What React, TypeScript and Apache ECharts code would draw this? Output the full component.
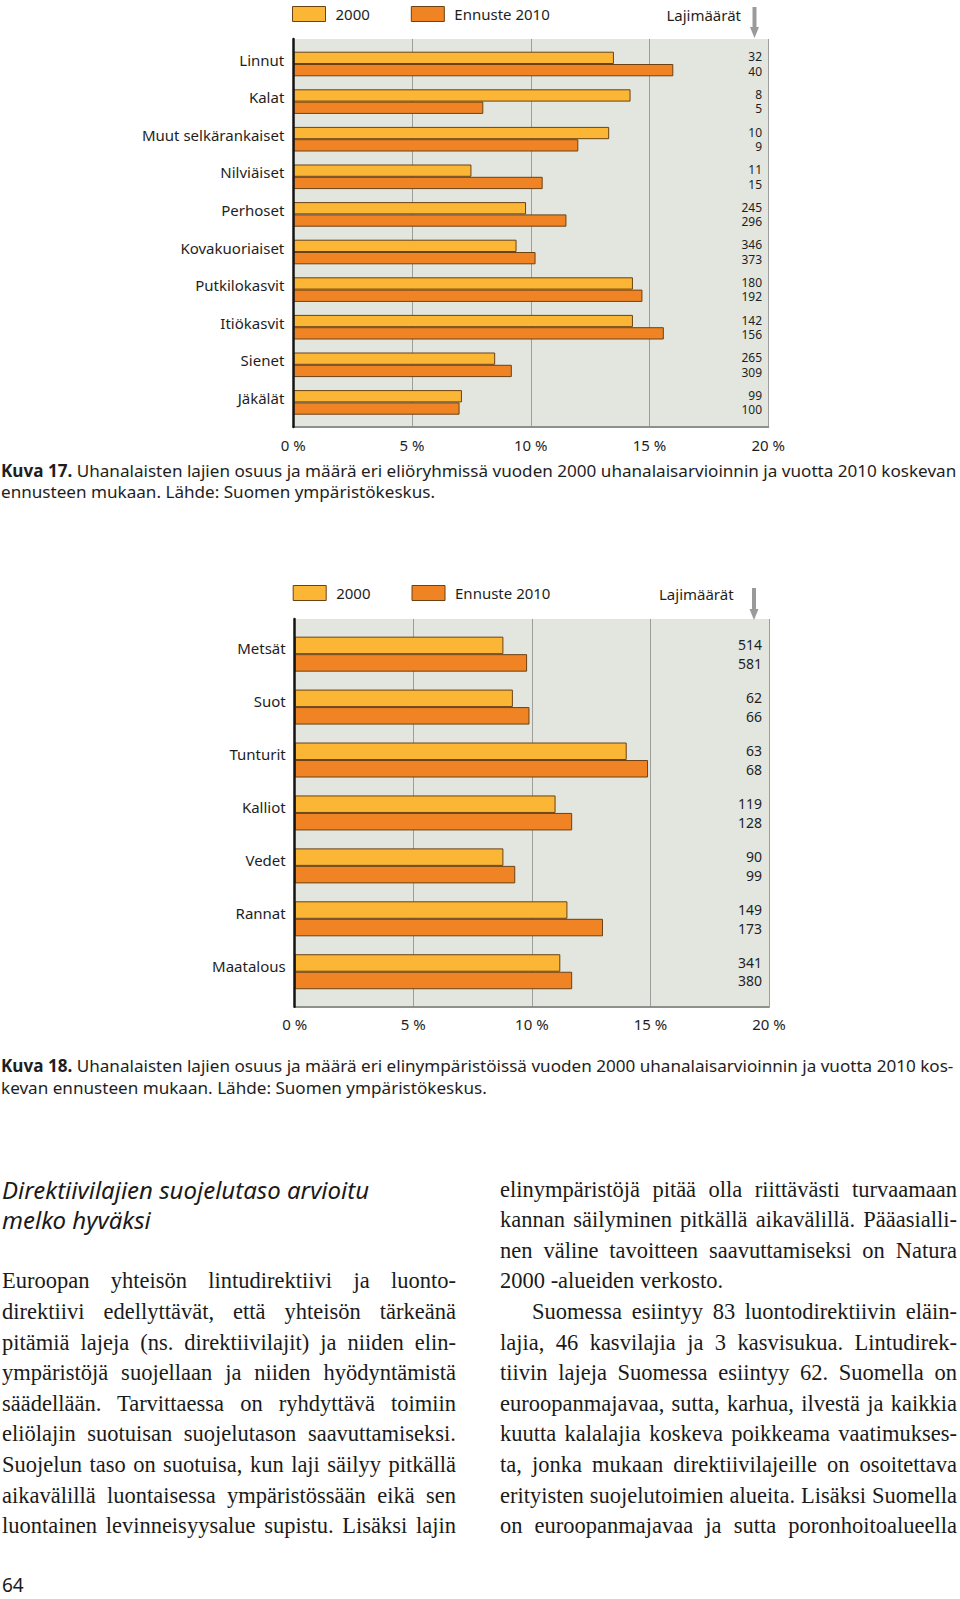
import React, { useEffect, useRef } from 'react';
import * as echarts from 'echarts';

// ---------- Data ----------
const groups17 = ['Linnut', 'Kalat', 'Muut selkärankaiset', 'Nilviäiset', 'Perhoset', 'Kovakuoriaiset', 'Putkilokasvit', 'Itiökasvit', 'Sienet', 'Jäkälät'];
const share2000_17 = [13.5, 14.2, 13.3, 7.5, 9.8, 9.4, 14.3, 14.3, 8.5, 7.1];
const share2010_17 = [16.0, 8.0, 12.0, 10.5, 11.5, 10.2, 14.7, 15.6, 9.2, 7.0];
const count2000_17 = [32, 8, 10, 11, 245, 346, 180, 142, 265, 99];
const count2010_17 = [40, 5, 9, 15, 296, 373, 192, 156, 309, 100];

const habitats18 = ['Metsät', 'Suot', 'Tunturit', 'Kalliot', 'Vedet', 'Rannat', 'Maatalous'];
const share2000_18 = [8.8, 9.2, 14.0, 11.0, 8.8, 11.5, 11.2];
const share2010_18 = [9.8, 9.9, 14.9, 11.7, 9.3, 13.0, 11.7];
const count2000_18 = [514, 62, 63, 119, 90, 149, 341];
const count2010_18 = [581, 66, 68, 128, 99, 173, 380];

const seriesNames = ['2000', 'Ennuste 2010'];
const xMin = 0;
const xMax = 20;
const xStep = 5;
const countTitle = 'Lajimäärät';

const caption17 = [
  'Uhanalaisten lajien osuus ja määrä eri eliöryhmissä vuoden 2000 uhanalaisarvioinnin ja vuotta 2010 koskevan',
  'ennusteen mukaan. Lähde: Suomen ympäristökeskus.',
];
const caption18 = [
  'Uhanalaisten lajien osuus ja määrä eri elinympäristöissä vuoden 2000 uhanalaisarvioinnin ja vuotta 2010 kos-',
  'kevan ennusteen mukaan. Lähde: Suomen ympäristökeskus.',
];

const heading = ['Direktiivilajien suojelutaso arvioitu', 'melko hyväksi'];
const leftBody = [
  'Euroopan yhteisön lintudirektiivi ja luonto-',
  'direktiivi edellyttävät, että yhteisön tärkeänä',
  'pitämiä lajeja (ns. direktiivilajit) ja niiden elin-',
  'ympäristöjä suojellaan ja niiden hyödyntämistä',
  'säädellään. Tarvittaessa on ryhdyttävä toimiin',
  'eliölajin suotuisan suojelutason saavuttamiseksi.',
  'Suojelun taso on suotuisa, kun laji säilyy pitkällä',
  'aikavälillä luontaisessa ympäristössään eikä sen',
  'luontainen levinneisyysalue supistu. Lisäksi lajin',
];
const rightBody = [
  'elinympäristöjä pitää olla riittävästi turvaamaan',
  'kannan säilyminen pitkällä aikavälillä. Pääasialli-',
  'nen väline tavoitteen saavuttamiseksi on Natura',
  '2000 -alueiden verkosto.',
  'Suomessa esiintyy 83 luontodirektiivin eläin-',
  'lajia, 46 kasvilajia ja 3 kasvisukua. Lintudirek-',
  'tiivin lajeja Suomessa esiintyy 62. Suomella on',
  'euroopanmajavaa, sutta, karhua, ilvestä ja kaikkia',
  'kuutta kalalajia koskeva poikkeama vaatimukses-',
  'ta, jonka mukaan direktiivilajeille on osoitettava',
  'erityisten suojelutoimien alueita. Lisäksi Suomella',
  'on euroopanmajavaa ja sutta poronhoitoalueella',
];
const pageNumber = '64';

// ---------- Style ----------
const SANS = "'Noto Sans', 'Open Sans', sans-serif";
const SERIF = "'Liberation Serif', 'DejaVu Serif', serif";
const C2000 = '#fbb636';
const C2010 = '#f08424';
const BORDER = '#6a4214';
const BG = '#e2e6df';
const GRIDLINE = '#9c9e9a';
const TEXT = '#1e1e1e';

type Geo = {
  left: number; width: number;
  bgTop: number; bgH: number;
  barTop: number; barH: number;
  barW: number; cntFS: number; cntLH: number; cntMargin: number;
  labLH: number; legendLeft: number; legendTop: number;
};

function buildChart(
  idx: number, cats: string[], a: number[], b: number[], na: number[], nb: number[], g: Geo,
) {
  const gi = idx * 2;
  const grids = [
    { left: g.left, top: g.bgTop, width: g.width, height: g.bgH, show: true, backgroundColor: BG, borderWidth: 0 },
    { left: g.left, top: g.barTop, width: g.width, height: g.barH, show: false },
  ];
  const xAxes = [
    {
      gridIndex: gi, type: 'value', min: xMin, max: xMax, interval: xStep,
      axisLine: { show: true, lineStyle: { color: '#8e908c', width: 2 } },
      axisTick: { show: false },
      axisLabel: { formatter: (v: number) => `${v} %`, fontFamily: SANS, fontSize: 15, color: TEXT, margin: 10 },
      splitLine: { show: true, lineStyle: { color: GRIDLINE, width: 1 } },
    },
    { gridIndex: gi + 1, type: 'value', min: xMin, max: xMax, show: false },
  ];
  const yAxes = [
    {
      gridIndex: gi, type: 'value', min: 0, max: 1, z: 5,
      axisLine: { show: true, lineStyle: { color: '#141414', width: 2.5 } },
      axisTick: { show: false }, axisLabel: { show: false }, splitLine: { show: false },
    },
    {
      gridIndex: gi + 1, type: 'category', data: cats, inverse: true,
      axisLine: { show: false }, axisTick: { show: false },
      axisLabel: {
        fontFamily: SANS, fontSize: 15, color: TEXT, margin: 9,
        verticalAlign: 'bottom', lineHeight: g.labLH,
      },
    },
    {
      gridIndex: gi + 1, type: 'category', data: cats, inverse: true, position: 'right',
      axisLine: { show: false }, axisTick: { show: false },
      axisLabel: {
        inside: true, margin: g.cntMargin, align: 'right',
        fontFamily: SANS, fontSize: g.cntFS, color: TEXT, lineHeight: g.cntLH,
        formatter: (_v: string, i: number) => `${na[i]}\n${nb[i]}`,
      },
    },
  ];
  const xi = idx * 2 + 1;
  const yi = idx * 3 + 1;
  const series = [
    {
      type: 'bar', name: seriesNames[0], xAxisIndex: xi, yAxisIndex: yi, data: a,
      barWidth: g.barW, barGap: '0%',
      itemStyle: { color: C2000, borderColor: BORDER, borderWidth: 1 },
    },
    {
      type: 'bar', name: seriesNames[1], xAxisIndex: xi, yAxisIndex: yi, data: b,
      barWidth: g.barW, barGap: '0%',
      itemStyle: { color: C2010, borderColor: BORDER, borderWidth: 1 },
    },
  ];
  const legend = {
    left: g.legendLeft, top: g.legendTop, padding: 0, itemWidth: 33, itemHeight: 15, itemGap: 41, icon: 'rect',
    data: seriesNames,
    itemStyle: { borderColor: BORDER, borderWidth: 1 },
    textStyle: { fontFamily: SANS, fontSize: 15, color: TEXT, padding: [0, 0, 0, 5] },
    selectedMode: false,
  };
  return { grids, xAxes, yAxes, series, legend };
}

const geo17: Geo = {
  left: 293.3, width: 475, bgTop: 39, bgH: 388, barTop: 45.2, barH: 376,
  barW: 12.3, cntFS: 12, cntLH: 14.4, cntMargin: 6.3, labLH: 9, legendLeft: 292, legendTop: 6,
};
const geo18: Geo = {
  left: 294.7, width: 474.3, bgTop: 619, bgH: 387.7, barTop: 627.7, barH: 370.5,
  barW: 17.5, cntFS: 14, cntLH: 18.4, cntMargin: 7, labLH: 12, legendLeft: 292.7, legendTop: 585,
};

function arrow(cx: number, top: number, bottom: number) {
  const head = 11;
  return [
    { type: 'rect', shape: { x: cx - 2, y: top, width: 4, height: bottom - top - head + 1 }, style: { fill: '#9a9a9a' } },
    { type: 'polygon', shape: { points: [[cx - 4.5, bottom - head], [cx + 4.5, bottom - head], [cx, bottom]] }, style: { fill: '#9a9a9a' } },
  ];
}

const CAP_FS = 17.1;
function captionText(num: string, lines: string[], y1: number, y2: number) {
  return [
    {
      type: 'text', x: 1, y: y1,
      style: {
        text: `{b|${num}} ${lines[0]}`, fontFamily: SANS, fontSize: CAP_FS, fill: TEXT, verticalAlign: 'middle',
        rich: { b: { fontFamily: SANS, fontSize: CAP_FS, fontWeight: 'bold', fill: TEXT } },
      },
    },
    {
      type: 'text', x: 1, y: y2,
      style: { text: lines[1], fontFamily: SANS, fontSize: CAP_FS, fill: TEXT, verticalAlign: 'middle' },
    },
  ];
}

export default function App() {
  const ref = useRef<HTMLDivElement>(null);
  useEffect(() => {
    if (!ref.current) return;
    const chart = echarts.init(ref.current, null, { renderer: 'svg' });
    const c1 = buildChart(0, groups17, share2000_17, share2010_17, count2000_17, count2010_17, geo17);
    const c2 = buildChart(1, habitats18, share2000_18, share2010_18, count2000_18, count2010_18, geo18);
    const option: any = {
      animation: false,
      backgroundColor: '#ffffff',
      grid: [...c1.grids, ...c2.grids],
      xAxis: [...c1.xAxes, ...c2.xAxes],
      yAxis: [...c1.yAxes, ...c2.yAxes],
      series: [...c1.series, ...c2.series],
      legend: [c1.legend, c2.legend],
      graphic: {
        elements: [
          { type: 'text', x: 741, y: 15, style: { text: countTitle, fontFamily: SANS, fontSize: 15, fill: TEXT, align: 'right', verticalAlign: 'middle' } },
          ...arrow(754.5, 7, 38),
          { type: 'text', x: 733.6, y: 594, style: { text: countTitle, fontFamily: SANS, fontSize: 15, fill: TEXT, align: 'right', verticalAlign: 'middle' } },
          ...arrow(754, 588, 620),
          ...captionText('Kuva 17.', caption17, 470.3, 491.7),
          ...captionText('Kuva 18.', caption18, 1065, 1087.5),
        ],
      },
    };
    chart.setOption(option);
    return () => chart.dispose();
  }, []);

  const lineStyle = (left: number, top: number, width: number, last: boolean, indent = 0): React.CSSProperties => ({
    position: 'absolute', left: left + indent, top, width: width - indent,
    fontFamily: SERIF, fontSize: 22.5, lineHeight: '30px', color: '#1a1a1a',
    whiteSpace: 'nowrap', textAlign: 'justify', textAlignLast: last ? 'left' : 'justify',
  } as React.CSSProperties);

  const step = 30.6;
  return (
    <div style={{ position: 'absolute', left: 0, top: 0, width: 960, height: 1599, background: '#fff', overflow: 'hidden' }}>
      <div ref={ref} style={{ position: 'absolute', left: 0, top: 0, width: 960, height: 1599 }} />
      {heading.map((t, i) => (
        <div key={'h' + i} style={{ position: 'absolute', left: 2, top: 1174.7 + i * step, fontFamily: SANS, fontStyle: 'italic', fontSize: 24, lineHeight: '30px', color: '#1a1a1a', whiteSpace: 'nowrap' }}>{t}</div>
      ))}
      {leftBody.map((t, i) => (
        <div key={'l' + i} style={lineStyle(2, 1281.3 - 15 + i * step, 454, false)}>{t}</div>
      ))}
      {rightBody.map((t, i) => (
        <div key={'r' + i} style={lineStyle(500, 1189.6 - 15 + i * step, 457, i === 3, i === 4 ? 32 : 0)}>{t}</div>
      ))}
      <div style={{ position: 'absolute', left: 2, top: 1576.4, fontFamily: SANS, fontSize: 19, lineHeight: '19px', color: '#1a1a1a' }}>{pageNumber}</div>
    </div>
  );
}
